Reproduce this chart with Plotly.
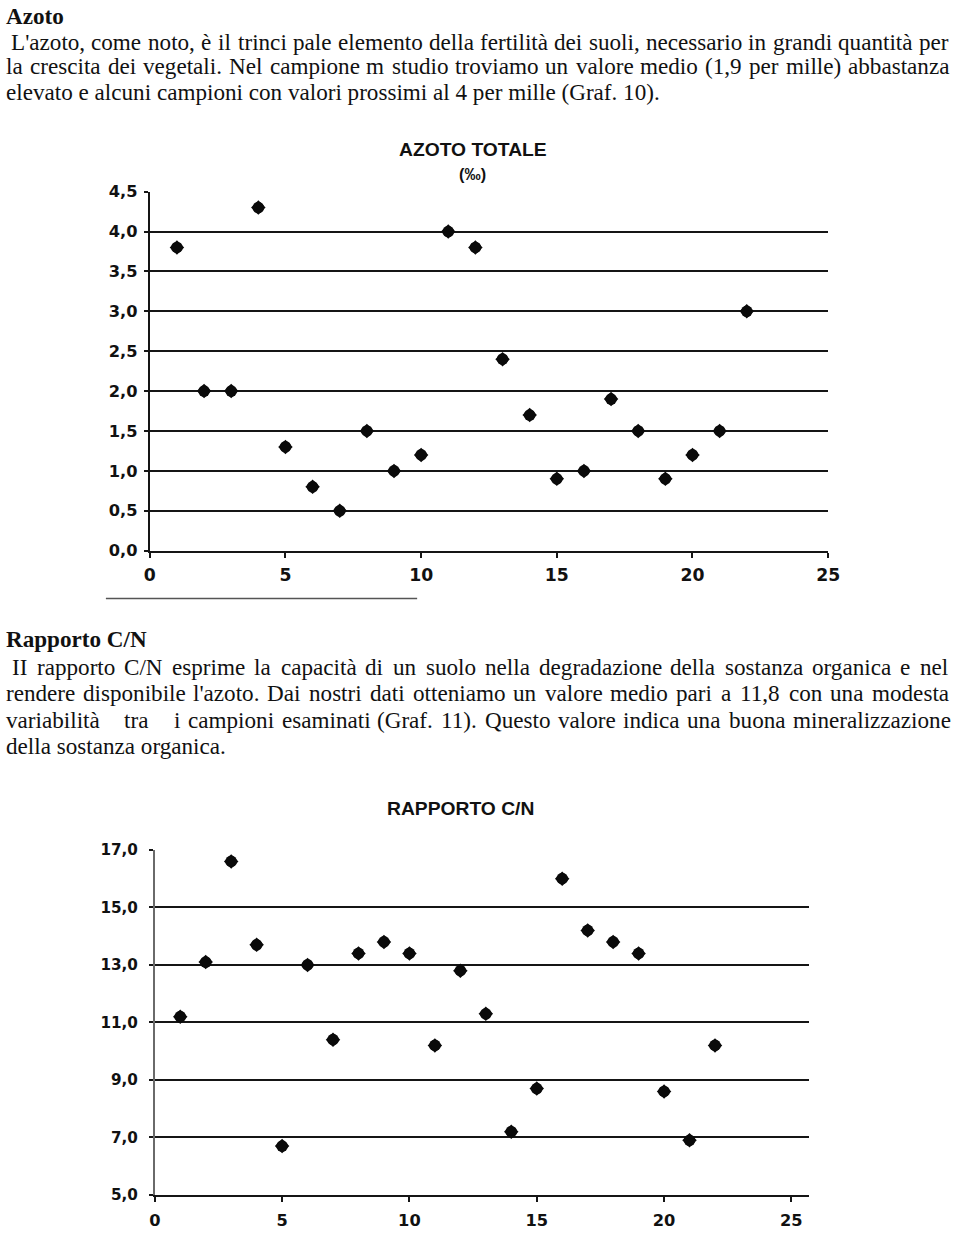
import re
import plotly.graph_objects as go

# The page is shown with an 8px body margin and the captured picture is scaled from
# (960+16)x(1240+16) to 960x1240. Positions below are written in picture pixels and
# converted to figure (paper) coordinates with that mapping.
W, H = 960, 1240
OFF = 8
SX = W / (W + 2 * OFF)
SY = H / (H + 2 * OFF)
K = 2 / (SX + SY)          # size compensation for the capture scale

# ---------------- data ----------------
samples = list(range(1, 23))
azoto_totale = [3.8, 2.0, 2.0, 4.3, 1.3, 0.8, 0.5, 1.5, 1.0, 1.2, 4.0,
                3.8, 2.4, 1.7, 0.9, 1.0, 1.9, 1.5, 0.9, 1.2, 1.5, 3.0]
rapporto_cn = [11.2, 13.1, 16.6, 13.7, 6.7, 13.0, 10.4, 13.4, 13.8, 13.4, 10.2,
               12.8, 11.3, 7.2, 8.7, 16.0, 14.2, 13.8, 13.4, 8.6, 6.9, 10.2]

x_ticks = [0, 5, 10, 15, 20, 25]
x_ticklabels = ["0", "5", "10", "15", "20", "25"]
azoto_ticks = [0.0, 0.5, 1.0, 1.5, 2.0, 2.5, 3.0, 3.5, 4.0, 4.5]
azoto_ticklabels = ["0,0", "0,5", "1,0", "1,5", "2,0", "2,5", "3,0", "3,5", "4,0", "4,5"]
cn_ticks = [5, 7, 9, 11, 13, 15, 17]
cn_ticklabels = ["5,0", "7,0", "9,0", "11,0", "13,0", "15,0", "17,0"]

title1 = "AZOTO TOTALE"
subtitle1 = "(‰)"
title2 = "RAPPORTO C/N"

heading1 = "Azoto"
para1 = [
    "L'azoto, come noto, è il trinci pale elemento della fertilità dei suoli, necessario in grandi quantità per",
    "la crescita dei vegetali. Nel campione m studio troviamo un valore medio (1,9 per mille) abbastanza",
    "elevato e alcuni campioni con valori prossimi al 4 per mille (Graf. 10).",
]
heading2 = "Rapporto C/N"
para2 = [
    "II rapporto C/N esprime la capacità di un suolo nella degradazione della sostanza organica e nel",
    "rendere disponibile l'azoto. Dai nostri dati otteniamo un valore medio pari a 11,8 con una modesta",
    "variabilità   tra   i campioni esaminati (Graf. 11). Questo valore indica una buona mineralizzazione",
    "della sostanza organica.",
]


def LX(x):
    return max(x / SX - OFF, 0.0)


def LY(y):
    return max(y / SY - OFF, 0.0)


def PX(x):
    return LX(x) / W


def PY(y):
    return 1 - LY(y) / H


def fs(size):
    return round(size * K, 2)


# ---------------- text layout helpers ----------------
TIMES = {
    ' ': 250, "'": 180, '(': 333, ')': 333, ',': 250, '.': 250, '/': 278, ':': 278, ';': 278,
    '‰': 1000, '-': 333,
    'A': 722, 'B': 667, 'C': 667, 'D': 722, 'E': 611, 'F': 556, 'G': 722, 'H': 722, 'I': 333,
    'J': 389, 'K': 722, 'L': 611, 'M': 889, 'N': 722, 'O': 722, 'P': 556, 'Q': 722, 'R': 667,
    'S': 556, 'T': 611, 'U': 722, 'V': 722, 'W': 944, 'X': 722, 'Y': 722, 'Z': 611,
    'a': 444, 'b': 500, 'c': 444, 'd': 500, 'e': 444, 'f': 333, 'g': 500, 'h': 500, 'i': 278,
    'j': 278, 'k': 500, 'l': 278, 'm': 778, 'n': 500, 'o': 500, 'p': 500, 'q': 500, 'r': 333,
    's': 389, 't': 278, 'u': 500, 'v': 500, 'w': 722, 'x': 500, 'y': 500, 'z': 444,
    'à': 444, 'è': 444, 'é': 444, 'ì': 278, 'ò': 500, 'ù': 500,
}
for d in "0123456789":
    TIMES[d] = 500
BODY_SIZE = 22.8 * K       # in figure pixels
BODY_FONT = dict(family="Liberation Serif, Times New Roman, serif", size=round(BODY_SIZE, 2),
                 color="#111111")


def tw(s, size=BODY_SIZE):
    return sum(TIMES.get(c, 500) for c in s) / 1000.0 * size


annotations = []


def ann_layout(text, lx, ly, font, xanchor="left"):
    annotations.append(dict(
        text=text, x=lx / W, y=1 - ly / H, xref="paper", yref="paper",
        xanchor=xanchor, yanchor="middle", showarrow=False, font=font,
        borderpad=0, borderwidth=0,
    ))


def px_ann(text, x, y, font, xanchor="left", min_ly=0.0):
    ann_layout(text, LX(x), max(LY(y), min_ly), font, xanchor)


def text_line(line, y, x_left, x_right=None):
    lx0 = LX(x_left)
    ly = LY(y)
    if x_right is None:
        ann_layout(line, lx0, ly, BODY_FONT)
        return
    lx1 = LX(x_right)
    words = [(m.group(0), m.start(), m.end()) for m in re.finditer(r"\S+", line)]
    total = sum(tw(w[0]) for w in words)
    gaps = [words[i + 1][1] - words[i][2] for i in range(len(words) - 1)]
    unit = (lx1 - lx0 - total) / sum(gaps)
    lx = lx0
    for i, (w, _, _) in enumerate(words):
        ann_layout(w, lx, ly, BODY_FONT)
        if i < len(gaps):
            lx += tw(w) + gaps[i] * unit


HEAD_FONT = dict(BODY_FONT, weight="bold")
RIGHT = 952

px_ann(heading1, 3, 12, HEAD_FONT, min_ly=7.0)
text_line(para1[0], 40.5, 13, RIGHT)
text_line(para1[1], 65.5, 3, RIGHT)
text_line(para1[2], 91, 3)

px_ann(heading2, 3, 640, HEAD_FONT)
text_line(para2[0], 668, 14, RIGHT)
text_line(para2[1], 694, 3, RIGHT)
text_line(para2[2], 721, 3, RIGHT)
text_line(para2[3], 747, 3)

TITLE_FONT = dict(family="Liberation Sans, Arial, sans-serif", size=fs(19), color="#111111", weight="bold")
px_ann(title1, 476, 149, TITLE_FONT, xanchor="center")
px_ann(subtitle1, 475, 173, dict(family="Liberation Sans, Arial, sans-serif", size=fs(16),
                                 color="#111111", weight="bold"), xanchor="center")
px_ann(title2, 463, 809, TITLE_FONT, xanchor="center")

# ---------------- figure ----------------
round_marker = dict(symbol="circle", size=fs(11.5), color="#0a0a0a", line=dict(width=0))
point_marker = dict(symbol="diamond", size=fs(11), color="#0a0a0a", line=dict(width=0))

fig = go.Figure()
for xa, ya, vals in (("x", "y", azoto_totale), ("x2", "y2", rapporto_cn)):
    fig.add_trace(go.Scatter(x=samples, y=vals, mode="markers", marker=round_marker,
                             xaxis=xa, yaxis=ya, cliponaxis=False, hoverinfo="x+y"))
    fig.add_trace(go.Scatter(x=samples, y=vals, mode="markers", marker=point_marker,
                             xaxis=xa, yaxis=ya, cliponaxis=False, hoverinfo="skip"))

AX = "#151515"
TICKFONT = dict(family="DejaVu Sans, Arial, sans-serif", color="#111111", weight="bold")


def xaxis_cfg(x0, x1, rng, fontsize, standoff):
    return dict(domain=[PX(x0), PX(x1)], range=rng, tickmode="array", tickvals=x_ticks,
                ticktext=x_ticklabels, ticks="outside", ticklen=5, tickwidth=2, tickcolor=AX,
                showline=True, linecolor=AX, linewidth=2, showgrid=False, zeroline=False,
                tickfont=dict(TICKFONT, size=fs(fontsize)), ticklabelstandoff=standoff,
                fixedrange=True)


def yaxis_cfg(y_bottom, y_top, rng, vals, labels, fontsize, standoff, linecolor, linewidth):
    return dict(domain=[PY(y_bottom), PY(y_top)], range=rng, tickmode="array", tickvals=vals,
                ticktext=labels, ticks="outside", ticklen=4, tickwidth=2, tickcolor=AX,
                showline=True, linecolor=linecolor, linewidth=linewidth, showgrid=False,
                zeroline=False, tickfont=dict(TICKFONT, size=fs(fontsize)),
                ticklabelstandoff=standoff, fixedrange=True,
                minor=dict(tickmode="array", tickvals=vals[1:-1], showgrid=True,
                           gridcolor=AX, gridwidth=2, ticks=""))


fig.update_layout(
    width=W, height=H,
    margin=dict(l=0, r=0, t=0, b=0),
    paper_bgcolor="white", plot_bgcolor="white",
    showlegend=False,
    xaxis=dict(anchor="y", **xaxis_cfg(152, 832, [0, 25], 17, 3)),
    yaxis=dict(anchor="x", **yaxis_cfg(551, 191, [0, 4.5], azoto_ticks, azoto_ticklabels,
                                       16, 3, AX, 2)),
    xaxis2=dict(anchor="y2", **xaxis_cfg(157, 813, [0, 25.7], 16, 5)),
    yaxis2=dict(anchor="x2", **yaxis_cfg(1197, 851, [5, 17], cn_ticks, cn_ticklabels,
                                         15, 8, "#6a6a6a", 1.5)),
    annotations=annotations,
    shapes=[dict(type="line", xref="paper", yref="paper",
                 x0=PX(108), x1=PX(420), y0=PY(599), y1=PY(599),
                 line=dict(color="#555555", width=1.5))],
)

fig.write_html("out.html")
